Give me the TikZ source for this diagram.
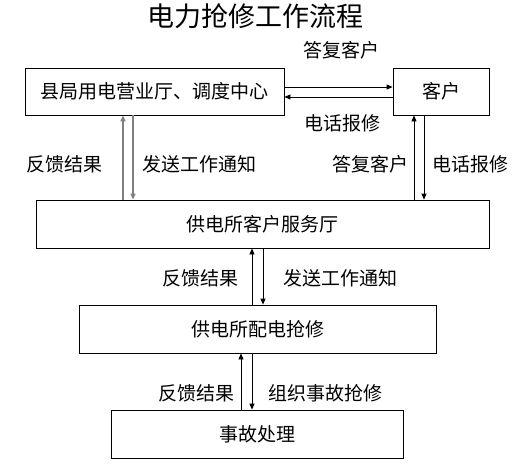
\documentclass[tikz,border=0pt]{standalone}
\usepackage{fontspec}
\setmainfont{Noto Sans CJK SC}
\usepackage{xcolor}
\usetikzlibrary{arrows.meta}
\definecolor{linegray}{HTML}{808080}
\newcommand{\boxfont}{\fontsize{19}{21}\selectfont}
\tikzset{
  flowbox/.style={
    rectangle, draw=black, line width=0.8pt, fill=white,
    inner sep=0pt, font=\boxfont
  },
  flowlabel/.style={inner sep=0pt, font=\boxfont},
  flowarrow/.style={-{Triangle[length=6pt,width=5pt]}, line width=0.8pt, color=black},
  grayarrow/.style={flowarrow, line width=1.5pt, color=linegray},
}

\begin{document}
\begin{tikzpicture}[x=1pt, y=-1pt]
  \useasboundingbox (0,0) rectangle (532,468);
  \node[inner sep=0pt, font=\fontsize{27}{29}\selectfont] (title) at (255.5,16) {电力抢修工作流程};
  % boxes
  \node[flowbox, minimum width=259pt, minimum height=47pt] (bureau) at (154.5,91.5) {县局用电营业厅、调度中心};
  \node[flowbox, minimum width=96pt, minimum height=47pt] (cust) at (441,91.5) {客户};
  \node[flowbox, minimum width=453pt, minimum height=48pt] (hall) at (262.5,224) {供电所客户服务厅};
  \node[flowbox, minimum width=357pt, minimum height=48pt] (repair) at (257.5,329) {供电所配电抢修};
  \node[flowbox, minimum width=292pt, minimum height=48pt] (fault) at (257,434) {事故处理};
  % labels
  \node[flowlabel] (ansTop) at (341.5,50) {答复客户};
  \node[flowlabel] (telTop) at (342.5,123) {电话报修};
  \node[flowlabel] (fbA) at (64,164) {反馈结果};
  \node[flowlabel] (sendA) at (199.5,164) {发送工作通知};
  \node[flowlabel] (ansR) at (370,164) {答复客户};
  \node[flowlabel] (telR) at (470,164) {电话报修};
  \node[flowlabel] (fbB) at (200.5,278) {反馈结果};
  \node[flowlabel] (sendB) at (340,278) {发送工作通知};
  \node[flowlabel] (fbC) at (196,393) {反馈结果};
  \node[flowlabel] (orgC) at (325,393) {组织事故抢修};
  % connectors
  \draw[flowarrow] (bureau.east |- 0,87) -- (cust.west |- 0,87);
  \draw[flowarrow] (cust.west |- 0,97) -- (bureau.east |- 0,97);
  \draw[grayarrow] (hall.north -| 123,0) -- (bureau.south -| 123,0);
  \draw[grayarrow] (bureau.south -| 133,0) -- (hall.north -| 133,0);
  \foreach \x/\lo/\hi in {414/hall/cust, 252/repair/hall, 241/fault/repair}
    \draw[flowarrow] (\lo.north -| \x,0) -- (\hi.south -| \x,0);
  \foreach \x/\hi/\lo in {424/cust/hall, 263/hall/repair, 252/repair/fault}
    \draw[flowarrow] (\hi.south -| \x,0) -- (\lo.north -| \x,0);
\end{tikzpicture}
\end{document}
